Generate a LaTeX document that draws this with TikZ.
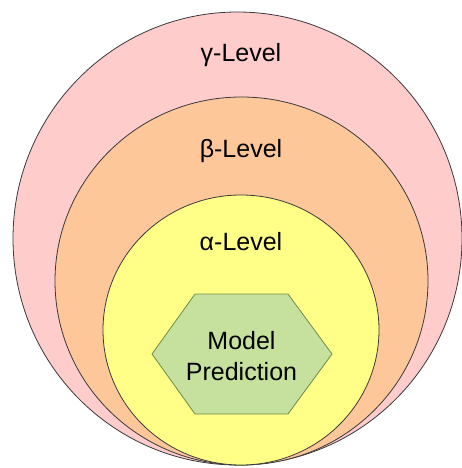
\documentclass[tikz,border=0pt]{standalone}
\usepackage{fontspec}
\setmainfont{Liberation Sans}
\usetikzlibrary{shapes.geometric}
\definecolor{gammafill}{HTML}{FFCCCC}
\definecolor{betafill}{HTML}{FDC79A}
\definecolor{alphafill}{HTML}{FFFF88}
\definecolor{hexfill}{HTML}{C6E19D}
\definecolor{hexline}{HTML}{6F8A4A}
\definecolor{ringline}{HTML}{3A3A3A}
\begin{document}
\begin{tikzpicture}[x=1pt,y=-1pt,
  ring/.style={ellipse, draw=ringline, line width=0.8pt, inner sep=0pt, outer sep=0pt},
  levellabel/.style={anchor=base, inner sep=0pt, font=\fontsize{25}{30}\selectfont},
  hexlabel/.style={align=center, inner sep=0pt, font=\fontsize{25}{31}\selectfont}]
  \useasboundingbox (0,0) rectangle (462,468);
  \fill[white] (0,0) rectangle (462,468);
  % nested levels, all touching at the bottom
  \node[ring, fill=gammafill, minimum width=449pt, minimum height=453pt] (gamma) at (237.5,238.5) {};
  \node[ring, fill=betafill, minimum width=373pt, minimum height=368pt] (beta) at (241.5,281) {};
  \node[ring, fill=alphafill, minimum width=276pt, minimum height=270pt] (alpha) at (241,330) {};
  % level names
  \node[levellabel] (gammatext) at (241,62) {γ-Level};
  \node[levellabel] (betatext) at (241,157) {β-Level};
  \node[levellabel] (alphatext) at (241,250) {α-Level};
  % central hexagon
  \draw[fill=hexfill, draw=hexline, line width=0.8pt]
    (152,354) -- (195,294) -- (288,294) -- (332,354) -- (288,414) -- (195,414) -- cycle;
  \node[hexlabel] (pred) at (241.5,356) {Model\\Prediction};
\end{tikzpicture}
\end{document}
